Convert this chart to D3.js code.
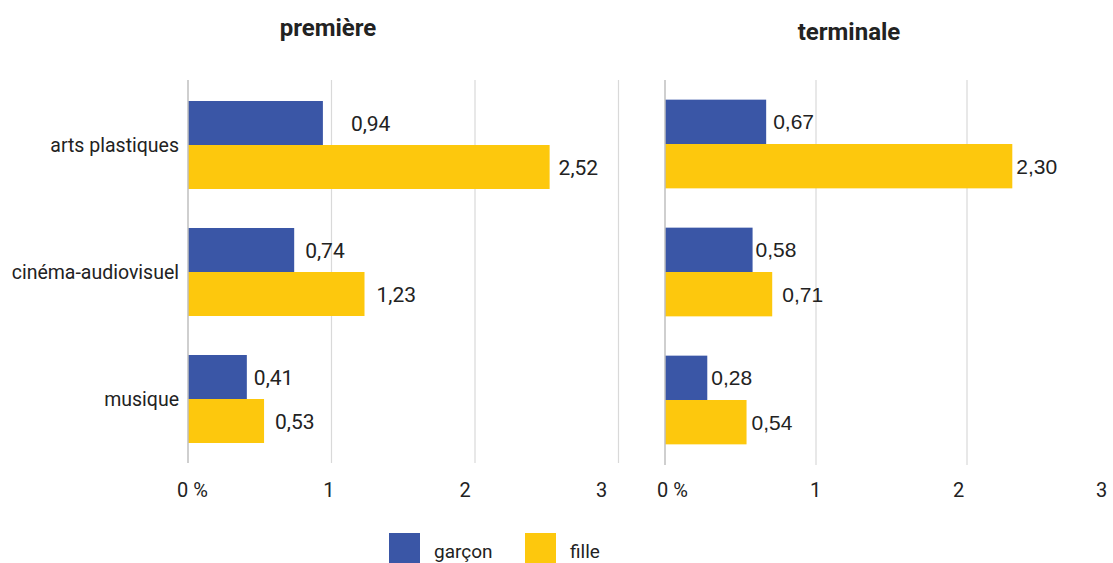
<!DOCTYPE html>
<html>
<head>
<meta charset="utf-8">
<script src="https://cdn.jsdelivr.net/npm/d3@7"></script>
<style>
  html, body { margin: 0; padding: 0; background: #ffffff; }
  svg { display: block; }
</style>
</head>
<body>
<svg id="chart" width="1113" height="563"></svg>
<script>
// ---- data ----
const categories = ["arts plastiques", "cinéma-audiovisuel", "musique"];
const seriesNames = ["garçon", "fille"];
const panelTitles = ["première", "terminale"];
const premiereGarcon = [0.94, 0.74, 0.41];
const premiereFille  = [2.52, 1.23, 0.53];
const terminaleGarcon = [0.67, 0.58, 0.28];
const terminaleFille  = [2.30, 0.71, 0.54];
const tickValues = [0, 1, 2, 3];
const tickLabels = ["0 %", "1", "2", "3"];

// ---- styles ----
const colors = { "garçon": "#3A56A6", "fille": "#FDC80D" };
const textColor = "#222222";
const gridColor = "#d9d9d9";
const axisColor = "#bfbfbf";

const svg = d3.select("#chart");
const fmt = v => d3.format(".2f")(v).replace(".", ",");

const panels = [
  { title: panelTitles[0], garcon: premiereGarcon, fille: premiereFille,
    x0: 188, unitPx: 143.5, top: 81.5, bottom: 462.5, gridTop: 80, gridBottom: 463,
    tickL: 192, tickR: 601, titleX: 328, titleY: 36,
    labelFont: "Roboto, sans-serif", labelSize: 21, showCats: true,
    nudge: [[22, 3], [5, 6], [1, 5]] },
  { title: panelTitles[1], garcon: terminaleGarcon, fille: terminaleFille,
    x0: 665, unitPx: 151, top: 80, bottom: 464, gridTop: 80, gridBottom: 465,
    tickL: 672, tickR: 1101, titleX: 849, titleY: 40,
    labelFont: "'Liberation Sans', Arial, sans-serif", labelSize: 21, showCats: false,
    nudge: [[1, -2], [-3, 4], [-2, -1]] }
];

panels.forEach(p => {
  const g = svg.append("g");
  const x = d3.scaleLinear().domain([0, 3]).range([p.x0, p.x0 + 3 * p.unitPx]);
  const y0 = d3.scaleBand().domain(categories).range([p.top, p.bottom])
    .paddingInner(0.307).paddingOuter(0.1535);
  const y1 = d3.scaleBand().domain(seriesNames).range([0, y0.bandwidth()]);

  // gridlines
  g.selectAll("line.grid").data(tickValues.slice(1)).join("line")
    .attr("x1", d => x(d)).attr("x2", d => x(d))
    .attr("y1", p.gridTop).attr("y2", p.gridBottom)
    .attr("stroke", gridColor).attr("stroke-width", 1.2);

  // tick labels via axis (label scale)
  const xl = d3.scalePoint().domain(tickValues).range([p.tickL, p.tickR]);
  const ax = g.append("g").attr("transform", "translate(0,476)")
    .call(d3.axisBottom(xl).tickSize(0).tickPadding(0)
      .tickFormat((d, i) => tickLabels[i]));
  ax.select(".domain").remove();
  ax.selectAll("text")
    .attr("fill", textColor)
    .style("font-family", "Roboto, sans-serif")
    .style("font-size", "20px")
    .attr("dy", "1.05em");

  // bars
  const rows = categories.map((c, i) => ({ cat: c, vals: [
    { s: "garçon", v: p.garcon[i] }, { s: "fille", v: p.fille[i] } ] }));
  const groups = g.selectAll("g.cat").data(rows).join("g")
    .attr("transform", d => `translate(0,${y0(d.cat)})`);
  groups.selectAll("rect").data(d => d.vals).join("rect")
    .attr("x", x(0))
    .attr("y", d => y1(d.s))
    .attr("width", d => x(d.v) - x(0))
    .attr("height", y1.bandwidth())
    .attr("fill", d => colors[d.s]);

  // value labels
  groups.each(function(row, ci) {
    d3.select(this).selectAll("text.val").data(row.vals).join("text")
      .attr("x", (d, si) => x(d.v) + 6 + p.nudge[ci][si])
      .attr("y", d => y1(d.s) + y1.bandwidth() / 2)
      .attr("dy", "0.36em")
      .attr("fill", textColor)
      .style("font-family", p.labelFont)
      .style("font-size", p.labelSize + "px")
      .text(d => fmt(d.v));
  });

  // zero axis line
  g.append("line")
    .attr("x1", x(0)).attr("x2", x(0))
    .attr("y1", p.gridTop).attr("y2", p.gridBottom)
    .attr("stroke", axisColor).attr("stroke-width", 1.5);

  // category labels
  if (p.showCats) {
    g.selectAll("text.cat").data(categories).join("text")
      .attr("x", 179)
      .attr("y", d => y0(d) + y0.bandwidth() / 2)
      .attr("dy", "0.36em")
      .attr("text-anchor", "end")
      .attr("fill", textColor)
      .style("font-family", "Roboto, sans-serif")
      .style("font-size", "19.5px")
      .text(d => d);
  }

  // title
  g.append("text")
    .attr("x", p.titleX).attr("y", p.titleY)
    .attr("text-anchor", "middle")
    .attr("fill", textColor)
    .style("font-family", "Roboto, sans-serif")
    .style("font-weight", "700")
    .style("font-size", "24px")
    .text(p.title);
});

// legend
const legendX = d3.scalePoint().domain(seriesNames).range([389, 525]);
const lg = svg.append("g");
const li = lg.selectAll("g").data(seriesNames).join("g")
  .attr("transform", d => `translate(${legendX(d)},533)`);
li.append("rect").attr("width", 31).attr("height", 30).attr("fill", d => colors[d]);
li.append("text").attr("x", 45).attr("y", 25)
  .attr("fill", textColor)
  .style("font-family", "Roboto, sans-serif")
  .style("font-size", "19px")
  .text(d => d);
</script>
</body>
</html>
